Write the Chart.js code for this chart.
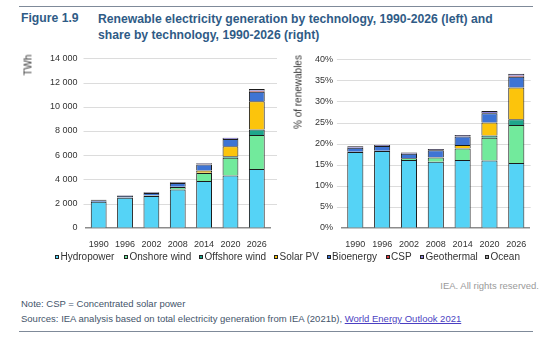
<!DOCTYPE html>
<html>
<head>
<meta charset="utf-8">
<script src="https://cdn.jsdelivr.net/npm/chart.js@4/dist/chart.umd.min.js"></script>
<style>
  html, body { margin: 0; padding: 0; background: #fff; }
  body { width: 554px; height: 337px; position: relative; overflow: hidden;
         font-family: 'Liberation Sans', Arial, sans-serif; }
  .rule { position: absolute; left: 19px; width: 514px; height: 0; border-top: 1.5px solid #7f8a99; }
  .fig { position: absolute; left: 21px; top: 11px; font-size: 12.2px; font-weight: bold; color: #2f5b86; }
  .ttl { position: absolute; left: 98px; top: 11px; font-size: 12.2px; font-weight: bold; color: #2f5b86; line-height: 16px; }
  canvas { position: absolute; }
  .ytitle { position: absolute; font-size: 10px; color: #333; white-space: nowrap;
            transform: translate(-50%, -50%) rotate(-90deg); }
  .lg { position: absolute; top: 251px; font-size: 10px; line-height: 12px; color: #333; white-space: nowrap; }
  .lg .sw { display: inline-block; box-sizing: border-box; width: 4px; height: 4px; border: 0.8px solid #222;
            margin-right: 1.5px; vertical-align: 1px; }
  .foot { position: absolute; font-size: 9.5px; color: #44546a; white-space: nowrap; }
  .foot a { color: #4b3fc2; text-decoration: underline; }
</style>
</head>
<body>
<div class="rule" style="top:6px"></div>
<div class="fig">Figure 1.9</div>
<div class="ttl">Renewable electricity generation by technology, 1990-2026 (left) and<br>share by technology, 1990-2026 (right)</div>

<canvas id="left" width="290" height="210" style="left:0;top:45px"></canvas>
<canvas id="right" width="264" height="210" style="left:290px;top:45px"></canvas>
<div class="ytitle" style="left:28px;top:65px">TWh</div>
<div class="ytitle" style="left:298px;top:92px">% of renewables</div>

<div id="legend"></div>

<div class="foot" style="right:15px;top:280px;color:#9a9a9a">IEA. All rights reserved.</div>
<div class="foot" style="left:21px;top:298px">Note: CSP = Concentrated solar power</div>
<div class="foot" style="left:21px;top:313px">Sources: IEA analysis based on total electricity generation from IEA (2021b), <a>World Energy Outlook 2021</a></div>
<div class="rule" style="top:331px"></div>

<script>
// Years shown on both panels
const years = ['1990', '1996', '2002', '2008', '2014', '2020', '2026'];

// Technologies, in stacking order (bottom to top)
const technologies = ['Hydropower', 'Onshore wind', 'Offshore wind', 'Solar PV', 'Bioenergy', 'CSP', 'Geothermal', 'Ocean'];
const techColors = ['#55d3f6', '#72ea9c', '#1ea68b', '#fcc40c', '#3e74d4', '#e0393e', '#8b80da', '#a3a3a3'];

// Generation by technology, TWh
const hydroTWh    = [2150, 2480, 2620, 3150, 3870, 4320, 4860];
const onshoreTWh  = [4, 12, 50, 210, 650, 1460, 2810];
const offshoreTWh = [0, 0, 1, 4, 25, 120, 460];
const solarTWh    = [0, 1, 2, 12, 190, 830, 2330];
const bioTWh      = [120, 140, 200, 330, 500, 600, 790];
const cspTWh      = [1, 1, 1, 1, 10, 13, 70];
const geoTWh      = [36, 40, 52, 65, 77, 95, 150];
const oceanTWh    = [1, 1, 1, 1, 1, 1, 3];

// Share of total electricity generation, %
const hydroPct    = [18.0, 18.2, 16.1, 15.7, 16.1, 16.0, 15.4];
const onshorePct  = [0.03, 0.1, 0.4, 1.0, 2.7, 5.4, 9.0];
const offshorePct = [0, 0, 0.01, 0.02, 0.1, 0.5, 1.4];
const solarPct    = [0, 0.01, 0.01, 0.06, 0.75, 3.1, 7.5];
const bioPct      = [1.0, 1.1, 1.05, 1.6, 2.0, 2.2, 2.6];
const cspPct      = [0, 0, 0, 0, 0.05, 0.05, 0.2];
const geoPct      = [0.3, 0.3, 0.3, 0.3, 0.35, 0.5, 0.45];
const oceanPct    = [0.01, 0.01, 0.01, 0.01, 0.01, 0.01, 0.02];

// Axis ticks
const twhTicks = { max: 14000, step: 2000 };
const pctTicks = { max: 40, step: 5 };

// Left edge of each legend entry
const legendX = [55, 124, 199, 274, 326.5, 385.5, 420, 485];

const FONT = "'Liberation Sans', Arial, sans-serif";
Chart.defaults.font.family = FONT;
Chart.defaults.color = '#333';

function buildDatasets(series) {
  return series.map((data, i) => ({
    label: technologies[i],
    data: data,
    backgroundColor: techColors[i],
    borderColor: '#1b1b1b',
    borderWidth: 1,
    borderSkipped: 'start',
    categoryPercentage: 1,
    barPercentage: 0.6
  }));
}

// Horizontal gridlines that run a little past the category band
const gridExt = {
  id: 'gridExt',
  beforeDatasetsDraw(chart, args, opts) {
    const { ctx, chartArea } = chart;
    const y = chart.scales.y;
    ctx.save();
    ctx.strokeStyle = '#dcdcdc';
    ctx.lineWidth = 1;
    y.ticks.forEach(t => {
      if (t.value === 0) return;
      const py = Math.round(y.getPixelForValue(t.value)) + 0.5;
      ctx.beginPath();
      ctx.moveTo(chartArea.left - opts.left, py);
      ctx.lineTo(chartArea.right + opts.right, py);
      ctx.stroke();
    });
    ctx.restore();
  }
};

function makeChart(id, series, ticks, fmt, yWidth, padRight, ext, tickPad) {
  return new Chart(document.getElementById(id), {
    type: 'bar',
    data: { labels: years, datasets: buildDatasets(series) },
    plugins: [gridExt],
    options: {
      responsive: false,
      animation: false,
      devicePixelRatio: 1,
      layout: { padding: { top: 12.3, right: padRight, left: 0, bottom: 0 } },
      plugins: {
        legend: { display: false },
        tooltip: { enabled: false },
        gridExt: ext
      },
      scales: {
        x: {
          stacked: true,
          grid: { display: false },
          border: { display: true, color: '#8c8c8c', width: 1.5 },
          ticks: { font: { size: 9 }, color: '#333', padding: 3, maxRotation: 0 },
          afterFit: s => { s.height = 27.3; }
        },
        y: {
          stacked: true,
          min: 0,
          max: ticks.max,
          grid: { display: false, drawTicks: false },
          border: { display: false },
          ticks: { stepSize: ticks.step, font: { size: 9 }, color: '#333', padding: tickPad, callback: fmt },
          afterFit: s => { s.width = yWidth; }
        }
      }
    }
  });
}

makeChart('left',
  [hydroTWh, onshoreTWh, offshoreTWh, solarTWh, bioTWh, cspTWh, geoTWh, oceanTWh],
  twhTicks,
  v => String(v).replace(/\B(?=(\d{3})+(?!\d))/g, ' '),
  85.5, 20, { left: 2, right: 7 }, 8);

makeChart('right',
  [hydroPct, onshorePct, offshorePct, solarPct, bioPct, cspPct, geoPct, oceanPct],
  pctTicks,
  v => v + '%',
  51.9, 24.3, { left: 5, right: 1 }, 9);

// Shared legend below both panels
const legend = document.getElementById('legend');
technologies.forEach((name, i) => {
  const it = document.createElement('div');
  it.className = 'lg';
  it.style.left = legendX[i] + 'px';
  const sw = document.createElement('span');
  sw.className = 'sw';
  sw.style.background = techColors[i];
  it.appendChild(sw);
  it.appendChild(document.createTextNode(name));
  legend.appendChild(it);
});
</script>
</body>
</html>
